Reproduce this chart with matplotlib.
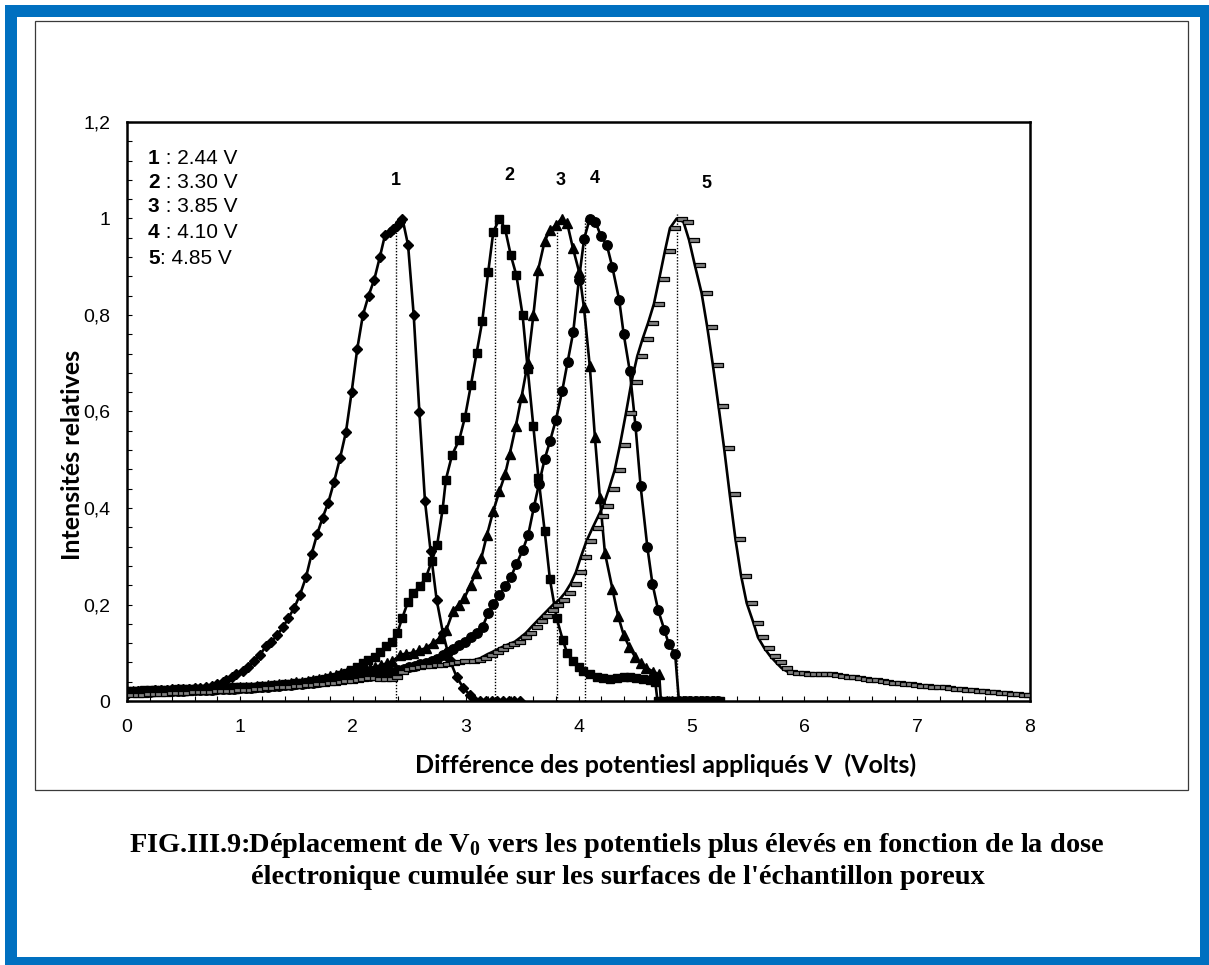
import matplotlib
matplotlib.use("Agg")
import matplotlib.pyplot as plt
from matplotlib.patches import Rectangle
from matplotlib.path import Path
from matplotlib.ticker import MultipleLocator, FuncFormatter

# ---------------------------------------------------------------- data
# Curve 1 (diamonds)
x1 = [0.00, 0.05, 0.10, 0.15, 0.20, 0.25, 0.30, 0.35, 0.40, 0.45, 0.50, 0.55,
      0.60, 0.65, 0.70, 0.75, 0.80, 0.85, 0.88, 0.93, 0.97, 1.025, 1.075, 1.125,
      1.178, 1.23, 1.28, 1.331, 1.385, 1.429, 1.482, 1.532, 1.585, 1.636, 1.686,
      1.733, 1.783, 1.833, 1.887, 1.94, 1.99, 2.04, 2.09, 2.14, 2.19, 2.24,
      2.285, 2.33, 2.36, 2.39, 2.42, 2.44, 2.49, 2.54, 2.59, 2.64, 2.69, 2.743,
      2.80, 2.86, 2.92, 2.98, 3.04, 3.08, 3.13, 3.18, 3.23, 3.28, 3.33, 3.38,
      3.43, 3.48]
y1 = [0.015, 0.018, 0.020, 0.020, 0.021, 0.022, 0.022, 0.023, 0.024, 0.025,
      0.025, 0.025, 0.026, 0.027, 0.028, 0.031, 0.035, 0.040, 0.044, 0.050,
      0.055, 0.062, 0.071, 0.082, 0.096, 0.113, 0.123, 0.137, 0.154, 0.172,
      0.193, 0.220, 0.256, 0.305, 0.347, 0.380, 0.411, 0.453, 0.503, 0.558,
      0.640, 0.730, 0.800, 0.840, 0.873, 0.920, 0.965, 0.972, 0.978, 0.984,
      0.992, 1.000, 0.945, 0.800, 0.600, 0.414, 0.310, 0.210, 0.140, 0.085,
      0.050, 0.027, 0.012, 0.0, 0.0, 0.0, 0.0, 0.0, 0.0, 0.0, 0.0, 0.0]

# Curve 2 (squares)
x2 = [0.00, 0.05, 0.10, 0.15, 0.20, 0.25, 0.30, 0.35, 0.40, 0.45, 0.50, 0.55,
      0.60, 0.65, 0.70, 0.75, 0.80, 0.85, 0.90, 0.95, 1.00, 1.05, 1.10, 1.15,
      1.20, 1.25, 1.30, 1.35, 1.40, 1.45, 1.50, 1.55, 1.60, 1.65, 1.70, 1.75,
      1.80, 1.85, 1.90, 1.95, 1.985, 2.034, 2.087, 2.137, 2.197, 2.24, 2.294,
      2.344, 2.394, 2.44, 2.49, 2.536, 2.595, 2.648, 2.70, 2.748, 2.796, 2.825,
      2.88, 2.943, 2.994, 3.047, 3.097, 3.147, 3.20, 3.245, 3.30, 3.35, 3.40,
      3.45, 3.505, 3.55, 3.60, 3.645, 3.70, 3.747, 3.806, 3.86, 3.90, 3.95,
      4.00, 4.04, 4.10, 4.16, 4.22, 4.28, 4.34, 4.40, 4.455, 4.51, 4.57, 4.63,
      4.68, 4.70, 4.75, 4.80, 4.85, 4.90, 4.95, 5.00, 5.05, 5.10, 5.15, 5.20,
      5.25]
y2 = [0.020, 0.021, 0.021, 0.022, 0.022, 0.022, 0.023, 0.023, 0.023, 0.024,
      0.024, 0.024, 0.025, 0.025, 0.025, 0.026, 0.026, 0.027, 0.027, 0.028,
      0.028, 0.029, 0.030, 0.030, 0.031, 0.032, 0.033, 0.034, 0.035, 0.036,
      0.037, 0.038, 0.040, 0.041, 0.043, 0.045, 0.047, 0.050, 0.054, 0.059,
      0.064, 0.071, 0.078, 0.085, 0.092, 0.102, 0.113, 0.123, 0.141, 0.173,
      0.206, 0.224, 0.238, 0.256, 0.290, 0.324, 0.397, 0.459, 0.510, 0.541,
      0.588, 0.655, 0.721, 0.787, 0.889, 0.972, 1.000, 0.978, 0.924, 0.882,
      0.799, 0.688, 0.569, 0.463, 0.353, 0.252, 0.172, 0.127, 0.099, 0.082,
      0.071, 0.062, 0.055, 0.050, 0.047, 0.045, 0.047, 0.049, 0.049, 0.047,
      0.045, 0.044, 0.040, 0.0, 0.0, 0.0, 0.0, 0.0, 0.0, 0.0, 0.0, 0.0, 0.0,
      0.0, 0.0]

# Curve 3 (triangles)
x3 = [0.00, 0.05, 0.10, 0.15, 0.20, 0.25, 0.30, 0.35, 0.40, 0.45, 0.50, 0.55,
      0.60, 0.65, 0.70, 0.75, 0.80, 0.85, 0.90, 0.95, 1.00, 1.05, 1.10, 1.15,
      1.20, 1.25, 1.30, 1.35, 1.40, 1.45, 1.50, 1.55, 1.60, 1.65, 1.70, 1.75,
      1.80, 1.85, 1.90, 1.95, 2.00, 2.05, 2.10, 2.15, 2.20, 2.25, 2.30, 2.35,
      2.42, 2.47, 2.53, 2.59, 2.65, 2.71, 2.77, 2.83, 2.89, 2.94, 2.99, 3.044,
      3.09, 3.14, 3.19, 3.245, 3.30, 3.35, 3.39, 3.445, 3.496, 3.55, 3.60,
      3.643, 3.70, 3.747, 3.80, 3.85, 3.90, 3.95, 4.006, 4.048, 4.10, 4.145,
      4.19, 4.234, 4.30, 4.35, 4.40, 4.45, 4.50, 4.55, 4.60, 4.66, 4.715, 4.73,
      4.78, 4.83, 4.88, 4.93, 4.98, 5.03, 5.08, 5.13, 5.18, 5.23]
y3 = [0.020, 0.020, 0.021, 0.021, 0.021, 0.022, 0.022, 0.022, 0.023, 0.023,
      0.023, 0.024, 0.024, 0.024, 0.025, 0.025, 0.026, 0.026, 0.027, 0.027,
      0.028, 0.029, 0.030, 0.031, 0.032, 0.033, 0.034, 0.035, 0.036, 0.037,
      0.039, 0.040, 0.042, 0.044, 0.046, 0.048, 0.051, 0.054, 0.057, 0.060,
      0.062, 0.064, 0.066, 0.068, 0.071, 0.074, 0.078, 0.082, 0.096, 0.098,
      0.100, 0.105, 0.110, 0.120, 0.130, 0.148, 0.187, 0.200, 0.214, 0.241,
      0.265, 0.297, 0.345, 0.394, 0.435, 0.470, 0.511, 0.570, 0.631, 0.700,
      0.799, 0.894, 0.953, 0.976, 0.986, 1.000, 0.990, 0.939, 0.889, 0.816,
      0.694, 0.548, 0.420, 0.307, 0.233, 0.177, 0.137, 0.112, 0.092, 0.078,
      0.069, 0.061, 0.055, 0.0, 0.0, 0.0, 0.0, 0.0, 0.0, 0.0, 0.0, 0.0, 0.0,
      0.0]

# Curve 4 (circles)
x4 = [0.00, 0.05, 0.10, 0.15, 0.20, 0.25, 0.30, 0.35, 0.40, 0.45, 0.50, 0.55,
      0.60, 0.65, 0.70, 0.75, 0.80, 0.85, 0.90, 0.95, 1.00, 1.05, 1.10, 1.15,
      1.20, 1.25, 1.30, 1.35, 1.40, 1.45, 1.50, 1.55, 1.60, 1.65, 1.70, 1.75,
      1.80, 1.85, 1.90, 1.95, 2.00, 2.05, 2.10, 2.15, 2.20, 2.25, 2.30, 2.35,
      2.40, 2.45, 2.50, 2.55, 2.60, 2.65, 2.70, 2.75, 2.80, 2.84, 2.89, 2.943,
      2.994, 3.044, 3.097, 3.15, 3.20, 3.245, 3.30, 3.35, 3.40, 3.45, 3.505,
      3.555, 3.605, 3.65, 3.70, 3.747, 3.80, 3.856, 3.903, 3.953, 4.003, 4.05,
      4.10, 4.15, 4.20, 4.25, 4.30, 4.36, 4.40, 4.455, 4.505, 4.55, 4.61,
      4.655, 4.706, 4.76, 4.80, 4.856, 4.89, 4.94, 4.99, 5.04, 5.09, 5.14,
      5.19, 5.24]
y4 = [0.017, 0.018, 0.018, 0.019, 0.019, 0.020, 0.020, 0.020, 0.021, 0.021,
      0.021, 0.022, 0.022, 0.022, 0.023, 0.023, 0.024, 0.024, 0.025, 0.025,
      0.026, 0.027, 0.027, 0.028, 0.029, 0.030, 0.031, 0.032, 0.033, 0.034,
      0.035, 0.036, 0.037, 0.038, 0.040, 0.041, 0.043, 0.044, 0.046, 0.047,
      0.049, 0.050, 0.051, 0.052, 0.053, 0.055, 0.057, 0.060, 0.064, 0.067,
      0.070, 0.073, 0.076, 0.079, 0.083, 0.088, 0.095, 0.101, 0.108, 0.116,
      0.123, 0.132, 0.141, 0.154, 0.182, 0.201, 0.220, 0.238, 0.256, 0.284,
      0.312, 0.345, 0.402, 0.450, 0.501, 0.538, 0.583, 0.643, 0.702, 0.764,
      0.872, 0.958, 1.000, 0.993, 0.963, 0.946, 0.899, 0.832, 0.761, 0.683,
      0.570, 0.446, 0.319, 0.243, 0.188, 0.148, 0.118, 0.098, 0.0, 0.0, 0.0,
      0.0, 0.0, 0.0, 0.0, 0.0]

# Curve 5 (dash markers)
x5 = [0.00, 0.05, 0.10, 0.15, 0.20, 0.25, 0.30, 0.35, 0.40, 0.45, 0.50, 0.55,
      0.60, 0.65, 0.70, 0.75, 0.80, 0.85, 0.90, 0.95, 1.00, 1.05, 1.10, 1.15,
      1.20, 1.25, 1.30, 1.35, 1.40, 1.45, 1.50, 1.55, 1.60, 1.65, 1.70, 1.75,
      1.80, 1.85, 1.90, 1.95, 2.00, 2.05, 2.10, 2.15, 2.20, 2.25, 2.30, 2.35,
      2.40, 2.45, 2.50, 2.55, 2.60, 2.65, 2.70, 2.75, 2.80, 2.85, 2.90, 2.95,
      3.03, 3.08, 3.133, 3.186, 3.24, 3.29, 3.333, 3.386, 3.437, 3.487, 3.534,
      3.585, 3.634, 3.68, 3.73, 3.776, 3.83, 3.88, 3.93, 3.977, 4.02, 4.07,
      4.125, 4.175, 4.22, 4.27, 4.32, 4.367, 4.42, 4.47, 4.52, 4.567, 4.617,
      4.668, 4.715, 4.765, 4.81, 4.87, 4.93, 4.98, 5.03, 5.09, 5.14, 5.19,
      5.24, 5.29, 5.34, 5.39, 5.44, 5.49, 5.55, 5.59, 5.645, 5.695, 5.75, 5.80,
      5.85, 5.90, 5.95, 6.00, 6.05, 6.10, 6.15, 6.20, 6.25, 6.30, 6.35, 6.40,
      6.45, 6.50, 6.55, 6.60, 6.65, 6.70, 6.75, 6.80, 6.85, 6.90, 6.95, 7.00,
      7.05, 7.10, 7.15, 7.20, 7.25, 7.30, 7.35, 7.40, 7.45, 7.50, 7.55, 7.60,
      7.65, 7.70, 7.75, 7.80, 7.85, 7.90, 7.95, 8.00]
y5 = [0.012, 0.013, 0.013, 0.014, 0.014, 0.015, 0.015, 0.016, 0.016, 0.017,
      0.017, 0.018, 0.018, 0.019, 0.019, 0.020, 0.020, 0.021, 0.021, 0.022,
      0.022, 0.023, 0.024, 0.025, 0.026, 0.027, 0.028, 0.029, 0.030, 0.031,
      0.032, 0.033, 0.034, 0.035, 0.036, 0.037, 0.038, 0.039, 0.041, 0.042,
      0.044, 0.046, 0.047, 0.047, 0.046, 0.045, 0.046, 0.050, 0.060, 0.066,
      0.069, 0.071, 0.072, 0.073, 0.074, 0.075, 0.076, 0.078, 0.080, 0.082,
      0.083, 0.085, 0.089, 0.096, 0.102, 0.108, 0.113, 0.118, 0.123, 0.132,
      0.141, 0.154, 0.166, 0.177, 0.189, 0.200, 0.210, 0.224, 0.243, 0.267,
      0.298, 0.331, 0.359, 0.383, 0.405, 0.440, 0.478, 0.530, 0.596, 0.662,
      0.714, 0.750, 0.784, 0.823, 0.875, 0.932, 0.980, 1.000, 0.993, 0.955,
      0.904, 0.846, 0.776, 0.697, 0.612, 0.524, 0.428, 0.336, 0.260, 0.203,
      0.162, 0.132, 0.110, 0.094, 0.080, 0.068, 0.061, 0.058, 0.057, 0.056,
      0.056, 0.056, 0.056, 0.055, 0.053, 0.052, 0.050, 0.049, 0.047, 0.046,
      0.044, 0.043, 0.041, 0.040, 0.038, 0.037, 0.036, 0.035, 0.033, 0.032,
      0.031, 0.030, 0.029, 0.028, 0.027, 0.025, 0.024, 0.023, 0.022, 0.021,
      0.020, 0.019, 0.018, 0.017, 0.016, 0.015, 0.014, 0.013, 0.013, 0.012]

# V0 positions marked by dotted lines, and the height each line reaches
v0_marks = [2.38, 3.26, 3.81, 4.06, 4.87]
v0_tops = [0.975, 1.00, 0.975, 1.00, 1.01]

# curve numbers above the peaks
peak_labels = ["1", "2", "3", "4", "5"]
peak_label_x = [2.38, 3.39, 3.84, 4.14, 5.13]
peak_label_y = [1.078, 1.09, 1.078, 1.082, 1.073]

# legend box entries
legend_nums = ["1", "2", "3", "4", "5"]
legend_vals = [" : 2.44 V", " : 3.30 V", " : 3.85 V", " : 4.10 V", ": 4.85 V"]

x_label = "Différence des potentiesl appliqués V  (Volts)"
y_label = "Intensités relatives"
caption_1 = r"FIG.III.9:Déplacement de $\mathbf{V_0}$ vers les potentiels plus élevés en fonction de la dose"
caption_2 = "électronique cumulée sur les surfaces de l'échantillon poreux"

# ---------------------------------------------------------------- figure
W, H = 1209, 965
plt.rcParams["font.family"] = ["Liberation Sans", "DejaVu Sans"]
plt.rcParams["mathtext.fontset"] = "custom"
plt.rcParams["mathtext.bf"] = "Liberation Serif:bold"
plt.rcParams["mathtext.rm"] = "Liberation Serif:bold"

fig = plt.figure(figsize=(W / 100, H / 100), dpi=100)
fig.patch.set_facecolor("white")


def fx(px):
    return px / W


def fy(py):
    return 1 - py / H


# blue page frame
fig.patches.append(Rectangle((fx(5), -0.1), 1.2, fy(5) + 0.1,
                             transform=fig.transFigure, facecolor="#0070C0",
                             edgecolor="none", zorder=-10))
fig.patches.append(Rectangle((fx(17), fy(957)), fx(1200) - fx(17), fy(17) - fy(957),
                             transform=fig.transFigure, facecolor="white",
                             edgecolor="none", zorder=-9))
# chart area border
fig.patches.append(Rectangle((fx(35), fy(790)), fx(1188) - fx(35), fy(21) - fy(790),
                             transform=fig.transFigure, facecolor="none",
                             edgecolor="#3a3a3a", linewidth=0.9, zorder=-8))

ax = fig.add_axes([fx(127), fy(701), fx(1030) - fx(127), fy(122) - fy(701)])
ax.set_facecolor("none")
ax.set_xlim(0, 8)
ax.set_ylim(0, 1.2)

lw = 1.9
ax.plot(x1, y1, color="black", lw=lw, marker="D", ms=4.8, mfc="black", mec="black", zorder=3)
ax.plot(x2, y2, color="black", lw=lw, marker="s", ms=6.3, mfc="black", mec="black", zorder=3)
ax.plot(x3, y3, color="black", lw=lw, marker="^", ms=6.8, mfc="black", mec="black", zorder=3)
ax.plot(x4, y4, color="black", lw=lw, marker="o", ms=6.8, mfc="black", mec="black", zorder=3)

# short bar marker sitting to the right of each data point
dash = Path([(0, -0.17), (1, -0.17), (1, 0.17), (0, 0.17), (0, -0.17)],
            [Path.MOVETO, Path.LINETO, Path.LINETO, Path.LINETO, Path.CLOSEPOLY])
ax.plot(x5, y5, color="black", lw=lw, zorder=3)
ax.plot(x5, y5, linestyle="none", marker=dash, ms=14, mfc="#808080", mec="black",
        mew=0.9, zorder=4)

ax.vlines(v0_marks, 0, v0_tops, colors="black", linestyles=(0, (1, 1.2)), linewidth=1.0, zorder=2)

for lab, px_, py_ in zip(peak_labels, peak_label_x, peak_label_y):
    ax.text(px_, py_, lab, ha="center", va="center", fontsize=13, fontweight="bold")

# axes styling
for s in ax.spines.values():
    s.set_linewidth(1.8)
ax.xaxis.set_major_locator(MultipleLocator(1))
ax.xaxis.set_minor_locator(MultipleLocator(0.2))
ax.yaxis.set_major_locator(MultipleLocator(0.2))
ax.yaxis.set_minor_locator(MultipleLocator(0.04))
ax.yaxis.set_major_formatter(FuncFormatter(lambda v, p: f"{v:g}".replace(".", ",")))
ax.xaxis.set_major_formatter(FuncFormatter(lambda v, p: f"{v:g}"))
ax.tick_params(which="both", direction="in", length=3.6, width=0.8, top=False, right=False)
ax.tick_params(axis="x", which="major", pad=13, labelsize=14)
ax.tick_params(axis="y", which="major", pad=12, labelsize=14)

# legend block
leg_y = [158, 183, 207, 232, 258]
for num, val, ly in zip(legend_nums, legend_vals, leg_y):
    t = fig.text(fx(148), fy(ly), num, fontsize=15, fontweight="bold", ha="left", va="center")
    ax.annotate(val, xy=(1, 0), xycoords=t, fontsize=15, ha="left", va="bottom")

# axis titles
fig.text(fx(666), fy(765), x_label, ha="center", va="center", fontsize=18,
         fontweight="bold", family=["Lato", "DejaVu Sans"])
fig.text(fx(73), fy(455), y_label, ha="center", va="center", rotation=90, fontsize=18,
         fontweight="bold", family=["Lato", "DejaVu Sans"])

# caption
fig.text(fx(617), fy(845), caption_1, ha="center", va="center", fontsize=20.4,
         fontweight="bold", family=["Liberation Serif", "DejaVu Serif"])
fig.text(fx(618), fy(878), caption_2, ha="center", va="center", fontsize=20.4,
         fontweight="bold", family=["Liberation Serif", "DejaVu Serif"])

fig.savefig("out.png", dpi=100)
